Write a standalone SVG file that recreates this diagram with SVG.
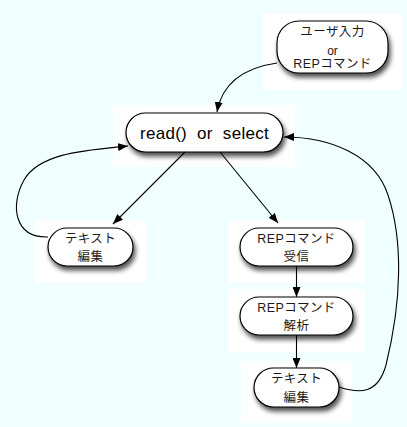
<svg xmlns="http://www.w3.org/2000/svg" width="407" height="427" viewBox="0 0 407 427">
  <style>
    .pad { fill: #ffffff; }
    .node { fill: #ffffff; stroke: #000000; stroke-width: 1.2; filter: url(#shadow); }
    .lbl { font-family: "Liberation Sans", "Noto Sans CJK JP", sans-serif; font-size: 12.5px; fill: #1a1a1a; text-anchor: middle; letter-spacing: 0.4px; }
    .big { font-size: 17px; word-spacing: 5px; letter-spacing: 0.3px; fill: #000000; }
    .small { font-size: 12px; letter-spacing: 0; }
    .edge { fill: none; stroke: #000000; stroke-width: 1.1; marker-end: url(#arrow); }
  </style>
  <defs>
    <filter id="shadow" x="-20%" y="-30%" width="150%" height="180%">
      <feGaussianBlur in="SourceAlpha" stdDeviation="2.5"/>
      <feOffset dx="2" dy="4" result="blur"/>
      <feComponentTransfer><feFuncA type="linear" slope="0.7"/></feComponentTransfer>
      <feMerge><feMergeNode/><feMergeNode in="SourceGraphic"/></feMerge>
    </filter>
    <marker id="arrow" viewBox="0 0 10 8" refX="10" refY="4" markerWidth="10" markerHeight="8" markerUnits="userSpaceOnUse" orient="auto">
      <path d="M0,0 L10,4 L0,8 Z" fill="#000000"/>
    </marker>
  </defs>

  <rect x="0" y="0" width="407" height="427" fill="#f0ffff"/>

  <g id="input">
    <rect class="pad" x="263" y="13" width="139" height="77"/>
    <rect class="node" x="277" y="21" width="111" height="52" rx="22" ry="22"/>
    <text class="lbl" x="332.5" y="36">ユーザ入力</text>
    <text class="lbl small" x="332.5" y="55">or</text>
    <text class="lbl" x="332.5" y="68">REPコマンド</text>
  </g>

  <g id="read">
    <rect class="pad" x="113" y="105" width="182" height="62"/>
    <rect class="node" x="126" y="113" width="157" height="39" rx="19.5" ry="19.5"/>
    <text class="lbl big" x="204.5" y="138.5">read() or select</text>
  </g>

  <g id="edit-left">
    <rect class="pad" x="35" y="220" width="111" height="63"/>
    <rect class="node" x="48" y="228" width="85" height="38" rx="19" ry="19"/>
    <text class="lbl" x="90.5" y="243">テキスト</text>
    <text class="lbl" x="90.5" y="261">編集</text>
  </g>

  <g id="rep-recv">
    <rect class="pad" x="228" y="220" width="137" height="63"/>
    <rect class="node" x="240" y="228" width="113" height="38" rx="19" ry="19"/>
    <text class="lbl" x="296.5" y="243">REPコマンド</text>
    <text class="lbl" x="296.5" y="261">受信</text>
  </g>

  <g id="rep-parse">
    <rect class="pad" x="228" y="289" width="137" height="63"/>
    <rect class="node" x="240" y="297" width="113" height="38" rx="19" ry="19"/>
    <text class="lbl" x="296.5" y="312">REPコマンド</text>
    <text class="lbl" x="296.5" y="330">解析</text>
  </g>

  <g id="edit-bottom">
    <rect class="pad" x="241" y="361" width="111" height="62"/>
    <rect class="node" x="254" y="368" width="85" height="39" rx="19.5" ry="19.5"/>
    <text class="lbl" x="296.5" y="383">テキスト</text>
    <text class="lbl" x="296.5" y="402">編集</text>
  </g>

  <g id="connectors">
    <path class="edge" d="M277,63 C242,68 222,84 217,112"/>
    <path class="edge" d="M185,152 L113,224"/>
    <path class="edge" d="M220,152 L278,223"/>
    <path class="edge" d="M48,237 C14,238 10,205 24,180 C40,152 90,150 128,146"/>
    <path class="edge" d="M296.5,266 L296.5,297"/>
    <path class="edge" d="M296.5,335 L296.5,368"/>
    <path class="edge" d="M339,387 C360,394 378,394 386,365 C402,300 403,240 388,195 C375,155 330,137 284,137"/>
  </g>
</svg>
